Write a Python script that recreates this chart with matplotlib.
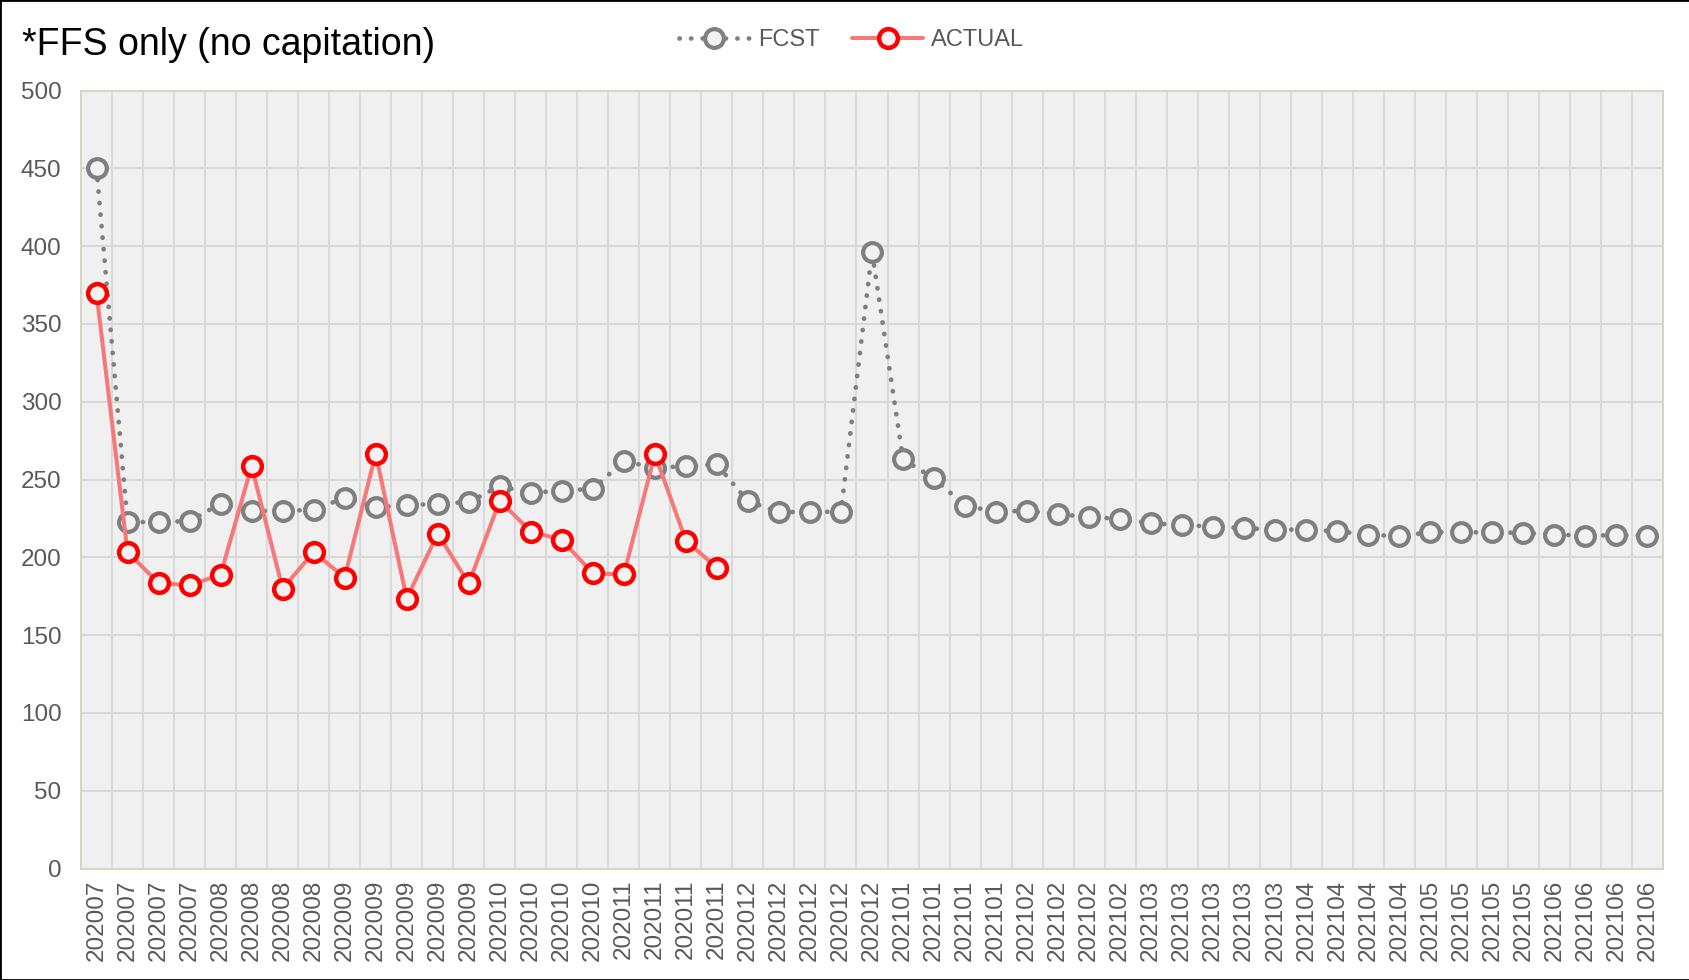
import matplotlib
matplotlib.use("Agg")
import matplotlib.pyplot as plt
from matplotlib.patches import Rectangle
import numpy as np

plt.rcParams['font.family'] = ['Liberation Sans', 'DejaVu Sans']

periods = (["202007"] * 4 + ["202008"] * 4 + ["202009"] * 5 + ["202010"] * 4 +
           ["202011"] * 4 + ["202012"] * 5 + ["202101"] * 4 + ["202102"] * 4 +
           ["202103"] * 5 + ["202104"] * 4 + ["202105"] * 4 + ["202106"] * 4)

fcst = [450, 222.7, 222.7, 223.3, 234.5, 229.8, 229.8, 230.6, 238.3, 232.3,
        233.4, 234.5, 235.5, 245.8, 241.4, 242.9, 244.0, 261.9, 257.5, 258.6,
        259.7, 236.0, 229.1, 229.2, 229.3, 396.4, 263.0, 250.7, 233.2, 229.3,
        230.0, 227.6, 226.1, 224.6, 221.8, 220.8, 219.7, 218.8, 217.8, 217.8,
        216.7, 214.6, 213.5, 216.3, 216.1, 216.1, 215.7, 214.6, 214.0, 214.2,
        214.0]

actual = [369.7, 203.4, 183.5, 182.0, 188.9, 258.6, 179.9, 203.4, 187.0, 266.6,
          173.5, 215.2, 183.2, 236.4, 216.6, 211.2, 189.7, 189.0, 266.2, 210.8,
          193.3]

title = "*FFS only (no capitation)"
yticks = [0, 50, 100, 150, 200, 250, 300, 350, 400, 450, 500]

W, H = 1690, 980
fig = plt.figure(figsize=(W / 100, H / 100), dpi=100)
ax = fig.add_axes([81 / W, 1 - 868.5 / H, (1663 - 81) / W, (868.5 - 90.6) / H])
ax.set_facecolor('#F0F0F0')

x = np.arange(len(periods))
xa = np.arange(len(actual))

gray = '#7F7F7F'
ax.plot(x, fcst, color=gray, lw=3.4, ls=(0, (0.05, 2.4)), dash_capstyle='round',
        marker='o', ms=13.5, mew=3.0, mfc='#F2F2F2', mec=gray, zorder=3, label='FCST')
ax.plot(xa, actual, color='#F77878', lw=2.9, solid_capstyle='round',
        marker='o', ms=13.5, mew=3.2, mfc='#F2F2F2', mec='#FF0000', zorder=4, label='ACTUAL')

ax.set_xlim(-0.5, len(periods) - 0.5)
ax.set_ylim(0, 500)
ax.set_yticks(yticks)
ax.set_xticks(x)
ax.set_xticklabels(periods, rotation=90)
ax.set_xticks(np.arange(-0.5, len(periods), 1), minor=True)
ax.grid(True, which='minor', axis='x', color='#D9D9D9', lw=1.5)
ax.grid(True, which='major', axis='y', color='#D9D9D9', lw=1.5)
ax.grid(False, which='major', axis='x')
ax.set_axisbelow(True)
ax.tick_params(axis='both', which='both', length=0, colors='#595959', labelsize=17.5)
ax.tick_params(axis='y', pad=14)
ax.tick_params(axis='x', pad=8)
for s in ax.spines.values():
    s.set_color('#D9D5C3')
    s.set_linewidth(1.5)

fig.text(22 / W, 1 - 45 / H, title, fontsize=27, color='black', va='center', ha='left')

leg = fig.legend(handles=ax.get_lines(), labels=['FCST', 'ACTUAL'], loc='center',
                 bbox_to_anchor=(851.5 / W, 1 - 40 / H), ncol=2, frameon=False,
                 fontsize=17, handlelength=3.0, handletextpad=0.35, columnspacing=1.4,
                 labelcolor='#595959')

fig.patches.append(Rectangle((0, 0), 1, 1, transform=fig.transFigure, fill=False,
                             edgecolor='black', lw=2.0))

fig.savefig('out.png', dpi=100, facecolor='white')
